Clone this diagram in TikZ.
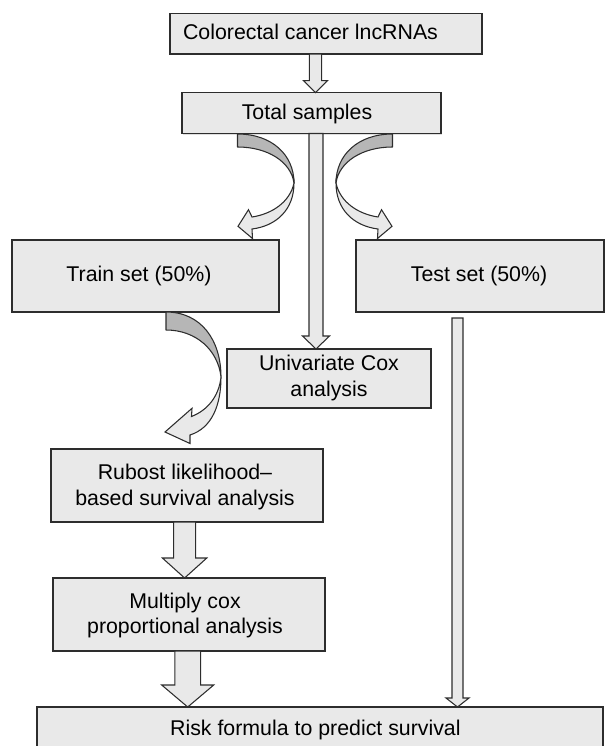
\documentclass[tikz,border=0pt]{standalone}
\usepackage{fontspec}
\setmainfont{Liberation Sans}
\usetikzlibrary{calc,fit,shadows}
\definecolor{boxfill}{RGB}{233,233,233}
\definecolor{edgecol}{RGB}{45,45,45}
\definecolor{backfill}{RGB}{182,182,182}
\newcommand\hollowdown[5]{%
  \filldraw[harrow] let \p1=(#1), \p2=(#2) in
  (\x1-#3*0.75pt,\y1) -- (\x1-#3*0.75pt,\y2+#5*0.75pt) -- (\x1-#4*0.75pt,\y2+#5*0.75pt)
  -- (\x1,\y2) -- (\x1+#4*0.75pt,\y2+#5*0.75pt) -- (\x1+#3*0.75pt,\y2+#5*0.75pt)
  -- (\x1+#3*0.75pt,\y1) -- cycle;}
\begin{document}
\begin{tikzpicture}[x=0.75pt,y=-0.75pt,
  box/.style={draw=edgecol, fill=boxfill, line width=0.8pt, inner sep=0pt, outer sep=0pt,
    drop shadow={shadow xshift=1pt, shadow yshift=-1pt, opacity=0.25}},
  lbl/.style={font=\fontsize{16}{19.3}\selectfont, align=center, inner sep=0pt, text=black},
  harrow/.style={draw=edgecol, fill=boxfill, line width=0.8pt, line join=miter},
  backpart/.style={draw=edgecol, fill=backfill, line width=0.8pt, line join=round},
  frontpart/.style={draw=edgecol, fill=boxfill, line width=0.8pt, line join=miter}]
\useasboundingbox (0,0) rectangle (605,746);
\clip (0,0) rectangle (605,746);

% boxes
\node[box, fit={(170,13.3) (482,54)}] (b1) {};
\node[box, fit={(182,92.7) (441,133.5)}] (b2) {};
\node[box, fit={(12,240) (279,312)}] (train) {};
\node[box, fit={(356,240) (604,312)}] (test) {};
\node[box, fit={(227,349) (431,408)}] (univ) {};
\node[box, fit={(51,449) (323,522)}] (rub) {};
\node[box, fit={(53,578) (325,651)}] (mult) {};
\node[box, fit={(37,707) (603,770)}] (risk) {};

% texts
\node[lbl, anchor=base] (t1) at (310.5,39.3) {Colorectal cancer lncRNAs};
\node[lbl, anchor=base] (t2) at (307,119.3) {Total samples};
\node[lbl, anchor=base] (t3) at (139,281.7) {Train set (50\%)};
\node[lbl, anchor=base] (t4) at (479,281.7) {Test set (50\%)};
\node[lbl] (t5) at (329,378) {Univariate Cox\\analysis};
\node[lbl] (t6) at (185,487) {Rubost likelihood–\\based survival analysis};
\node[lbl] (t7) at (185,615.5) {Multiply cox\\proportional analysis};
\node[lbl, anchor=base] (t8) at (315.4,735) {Risk formula to predict survival};

% straight hollow arrows
\hollowdown{315.5,0 |- b1.south}{315.5,0 |- b2.north}{6.2}{12}{12}
\hollowdown{316,0 |- b2.south}{316,0 |- univ.north}{7}{13.5}{13}
\coordinate (a3s) at (457.5,318);
\hollowdown{a3s}{457.5,0 |- risk.north}{5.5}{11.5}{9}
\hollowdown{184.6,0 |- rub.south}{184.6,0 |- mult.north}{11}{22.2}{20}
\hollowdown{187.7,0 |- mult.south}{187.7,0 |- risk.north}{12.9}{26}{22}

% curved arrow: Total samples -> Train set
\filldraw[backpart] (237.5,134) .. controls (272,134) and (294,155) .. (294,183)
  .. controls (291,162) and (268,147) .. (237.5,147) -- cycle;
\filldraw[frontpart] (294,183) .. controls (294,210) and (276,226) .. (252,229)
  -- (252.5,238.5) -- (238,226.3) -- (248.5,209.7) -- (252,217)
  .. controls (272,214) and (290,202) .. (294,183) -- cycle;

% curved arrow: Total samples -> Test set (mirror)
\begin{scope}[shift={(630,0)}, xscale=-1]
\filldraw[backpart] (237.5,134) .. controls (272,134) and (294,155) .. (294,183)
  .. controls (291,162) and (268,147) .. (237.5,147) -- cycle;
\filldraw[frontpart] (294,183) .. controls (294,210) and (276,226) .. (252,229)
  -- (252.5,238.5) -- (238,226.3) -- (248.5,209.7) -- (252,217)
  .. controls (272,214) and (290,202) .. (294,183) -- cycle;
\end{scope}

% curved arrow: Train set -> Rubost
\filldraw[backpart] (166,312) .. controls (201,312) and (221,340) .. (221,377)
  .. controls (218,350) and (196,330) .. (166,330) -- cycle;
\filldraw[frontpart] (221,377) .. controls (221,405) and (212,428) .. (190,435)
  -- (190,443.5) -- (165,432) -- (192,408.3) -- (191.5,416.5)
  .. controls (208,410) and (219,396) .. (221,377) -- cycle;
\end{tikzpicture}
\end{document}
